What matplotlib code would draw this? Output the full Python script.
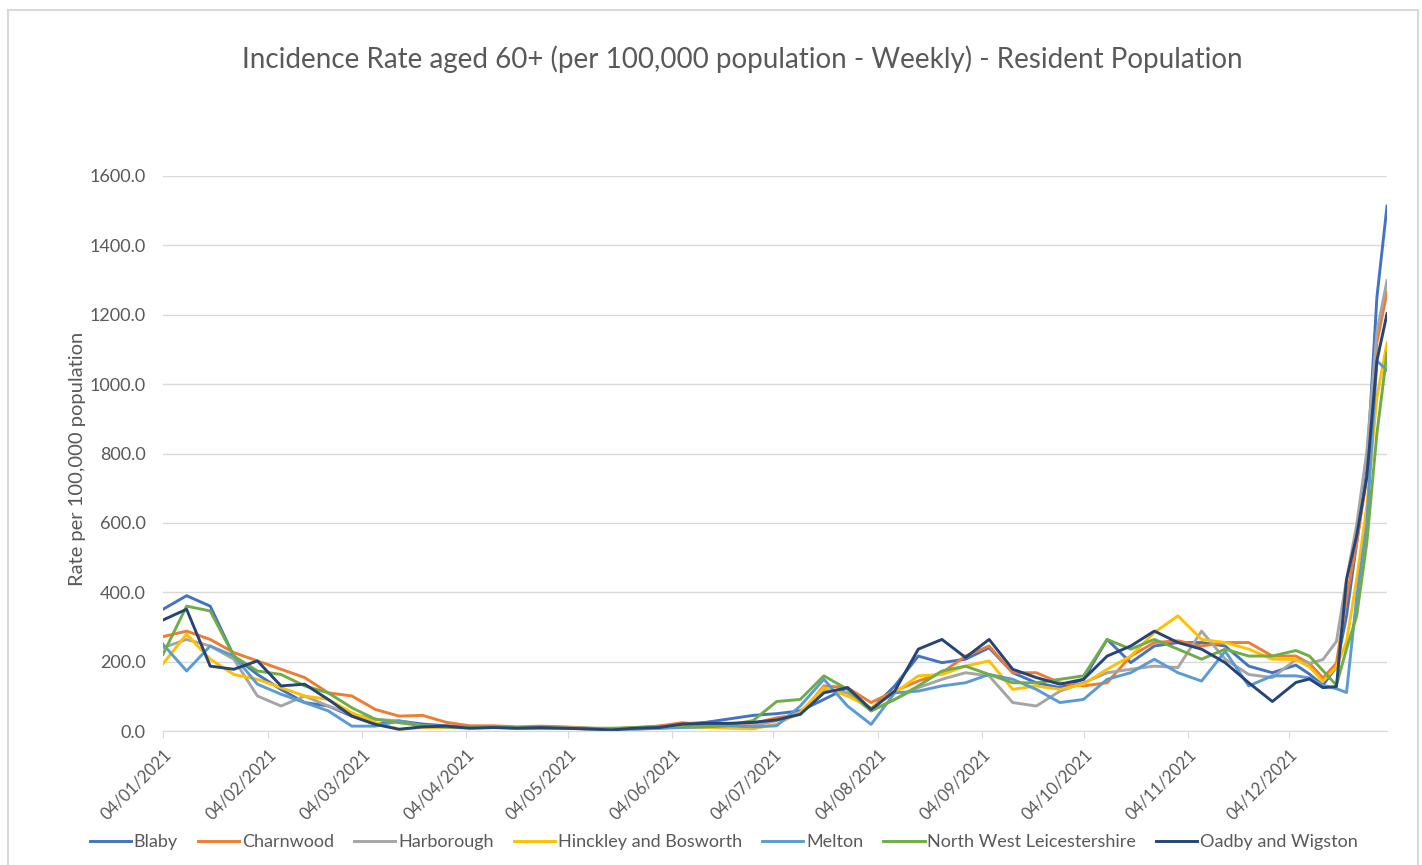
import pandas as pd
import matplotlib.pyplot as plt
import matplotlib.dates as mdates
from matplotlib.transforms import ScaledTranslation

plt.rcParams['font.family'] = ['Lato', 'DejaVu Sans']

# weekly readings from 04/01/2021 to 06/12/2021, then a finer tail through the December rise
weekly_dates = pd.date_range('2021-01-04', '2021-12-06', freq='7D')
tail_dates = pd.to_datetime(['2021-12-10', '2021-12-14', '2021-12-18', '2021-12-21',
                             '2021-12-24', '2021-12-27', '2021-12-30', '2022-01-02'])
dates = weekly_dates.append(tail_dates)

blaby = [351, 390, 360, 216, 163, 120, 82, 72, 43, 19, 29, 20, 15, 12, 12, 10, 8, 10, 8, 6,
         8, 14, 20, 25, 35, 45, 50, 58, 91, 125, 62, 130, 216, 197, 207, 240, 168, 139, 125,
         149, 264, 197, 245, 255, 255, 245, 187, 168, 190,
         164, 132, 185, 332, 542, 752, 1250, 1513]
charnwood = [272, 288, 264, 226, 202, 178, 154, 110, 101, 62, 43, 45, 25, 15, 15, 12, 14, 12, 8, 6,
             10, 14, 24, 18, 22, 22, 38, 48, 130, 125, 82, 115, 144, 168, 216, 245, 168, 168, 139,
             130, 139, 216, 255, 260, 245, 255, 255, 216, 216,
             195, 153, 195, 384, 542, 731, 1119, 1265]
harborough = [240, 264, 245, 207, 101, 72, 101, 72, 48, 34, 29, 15, 12, 10, 10, 10, 8, 10, 6, 5,
              8, 8, 12, 10, 12, 15, 30, 55, 120, 110, 58, 91, 125, 149, 168, 159, 82, 72, 115,
              139, 168, 178, 187, 183, 288, 207, 163, 154, 206,
              195, 206, 258, 437, 594, 804, 1151, 1298]
hinckley = [194, 279, 207, 163, 149, 125, 101, 91, 53, 24, 5, 10, 10, 8, 10, 8, 10, 8, 6, 5,
            6, 8, 12, 10, 8, 6, 20, 53, 125, 101, 67, 110, 159, 163, 187, 202, 120, 130, 120,
            135, 178, 216, 284, 332, 264, 255, 236, 207, 206,
            185, 143, 185, 258, 437, 647, 962, 1119]
melton = [250, 173, 245, 216, 135, 106, 82, 58, 14, 14, 29, 15, 12, 10, 12, 8, 8, 8, 6, 6,
          5, 8, 10, 12, 15, 12, 15, 72, 149, 72, 19, 110, 115, 130, 139, 163, 149, 120, 82,
          91, 149, 168, 207, 168, 144, 230, 130, 159, 159,
          153, 132, 122, 111, 384, 594, 1067, 1040]
nw_leics = [221, 360, 346, 216, 173, 163, 130, 110, 67, 34, 24, 15, 12, 10, 10, 10, 8, 8, 8, 8,
            10, 12, 14, 15, 18, 30, 85, 91, 159, 120, 58, 91, 130, 173, 187, 163, 139, 139, 149,
            159, 264, 236, 264, 236, 207, 236, 216, 216, 232,
            216, 174, 132, 237, 332, 542, 857, 1090]
oadby = [320, 351, 187, 178, 202, 130, 135, 91, 43, 19, 5, 12, 14, 8, 10, 8, 10, 8, 6, 3,
         8, 10, 20, 22, 22, 25, 32, 48, 110, 125, 62, 115, 236, 264, 212, 264, 178, 154, 135,
         149, 216, 245, 288, 255, 236, 197, 139, 85, 140,
         150, 125, 128, 437, 563, 731, 1067, 1203]

names = ['Blaby', 'Charnwood', 'Harborough', 'Hinckley and Bosworth', 'Melton',
         'North West Leicestershire', 'Oadby and Wigston']
series = [blaby, charnwood, harborough, hinckley, melton, nw_leics, oadby]
colors = ['#4472C4', '#ED7D31', '#A5A5A5', '#FFC000', '#5B9BD5', '#70AD47', '#264478']

text_color = '#595959'
grid_color = '#D9D9D9'

fig = plt.figure(figsize=(14.22, 8.65), dpi=100)
ax = fig.add_axes([163 / 1422, 1 - 731 / 865, (1387 - 163) / 1422, (731 - 176) / 865])

for name, values, color in zip(names, series, colors):
    ax.plot(dates, values, color=color, linewidth=2.1, label=name)

ax.set_xlim(dates[0], dates[-1])
ax.set_ylim(0, 1600)
ax.set_yticks(range(0, 1601, 200))
ax.yaxis.set_major_formatter(plt.FuncFormatter(lambda v, p: f'{v:.1f}'))
ax.grid(axis='y', color=grid_color, linewidth=1)
ax.set_axisbelow(True)

month_ticks = pd.date_range('2021-01-04', periods=12, freq=pd.DateOffset(months=1))
ax.set_xticks(month_ticks)
ax.xaxis.set_major_formatter(mdates.DateFormatter('%d/%m/%Y'))
shift = ScaledTranslation(5 / 100, 0, fig.dpi_scale_trans)
for lab in ax.get_xticklabels():
    lab.set_rotation(45)
    lab.set_ha('right')
    lab.set_rotation_mode('anchor')
    lab.set_transform(lab.get_transform() + shift)

for side in ['top', 'right', 'left']:
    ax.spines[side].set_visible(False)
ax.spines['bottom'].set_color(grid_color)
ax.tick_params(axis='x', colors=text_color, labelsize=12, length=5, pad=6, color=grid_color)
ax.tick_params(axis='y', colors=text_color, labelsize=13, length=0, pad=12.5)

ax.set_ylabel('Rate per 100,000 population', color=text_color, fontsize=14.5)
ax.yaxis.set_label_coords(-0.063, 0.49)
fig.text(0.522, 0.931, 'Incidence Rate aged 60+ (per 100,000 population - Weekly) - Resident Population',
         ha='center', va='center', color=text_color, fontsize=20)

fig.legend(loc='center', bbox_to_anchor=(0.509, 1 - 842 / 865), ncol=7, frameon=False,
           fontsize=13, labelcolor=text_color, handlelength=2.3, columnspacing=1.1,
           handletextpad=0.15)

# light chart-area border
fig.add_artist(plt.Line2D([8 / 1422, 8 / 1422], [0, 1 - 10 / 865], transform=fig.transFigure, color=grid_color, lw=1.5))
fig.add_artist(plt.Line2D([8 / 1422, 1418 / 1422], [1 - 10 / 865, 1 - 10 / 865], transform=fig.transFigure, color=grid_color, lw=1.5))
fig.add_artist(plt.Line2D([1418 / 1422, 1418 / 1422], [0, 1 - 10 / 865], transform=fig.transFigure, color=grid_color, lw=1.5))

fig.savefig('out.png', dpi=100)
